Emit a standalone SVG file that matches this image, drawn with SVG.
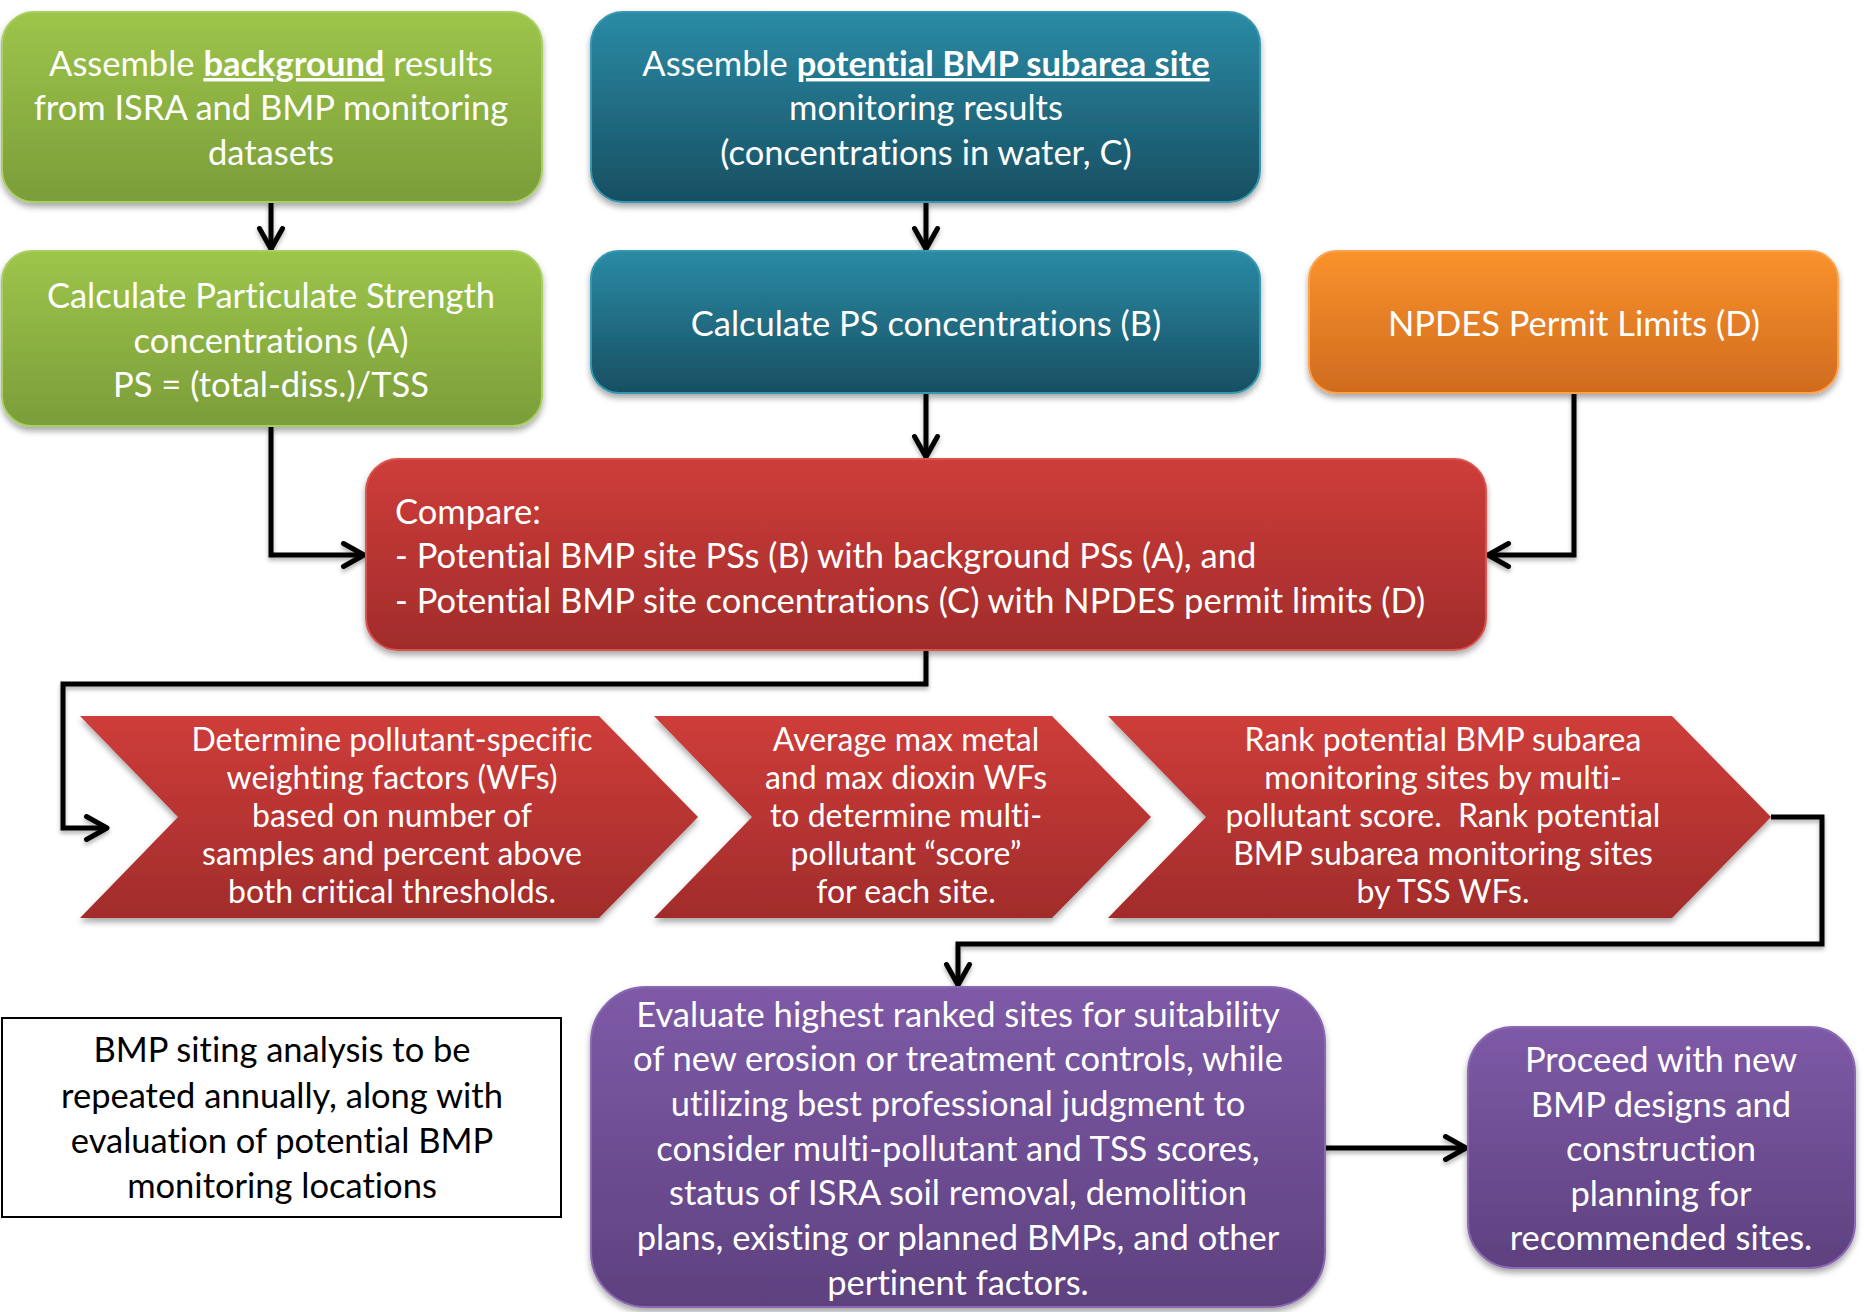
<svg xmlns="http://www.w3.org/2000/svg" width="1864" height="1312" viewBox="0 0 1864 1312">
<style>
.t{font-family:Lato,"Open Sans","Liberation Sans",sans-serif;fill:#fff;text-anchor:middle;font-size:34.5px;font-variant-ligatures:none}
.s{font-size:32px}
.l{text-anchor:start}
.k{fill:#000}
.b{font-weight:bold;text-decoration:underline}
.c{fill:none;stroke:#000;stroke-width:5;stroke-linejoin:miter}
</style>
<defs>
<filter id="sh" x="-5%" y="-5%" width="110%" height="120%">
<feDropShadow dx="0" dy="4" stdDeviation="3" flood-color="#000" flood-opacity="0.35"/>
</filter>
<filter id="csh" x="-10%" y="-10%" width="120%" height="120%">
<feDropShadow dx="0" dy="3" stdDeviation="2" flood-color="#000" flood-opacity="0.3"/>
</filter>
<linearGradient id="gG" x1="0" y1="0" x2="0" y2="1"><stop offset="0" stop-color="#9dc54a"/><stop offset="1" stop-color="#7b9d3a"/></linearGradient>
<linearGradient id="gT" x1="0" y1="0" x2="0" y2="1"><stop offset="0" stop-color="#2a8ba5"/><stop offset="1" stop-color="#184f62"/></linearGradient>
<linearGradient id="gO" x1="0" y1="0" x2="0" y2="1"><stop offset="0" stop-color="#fa922d"/><stop offset="1" stop-color="#cf6b1e"/></linearGradient>
<linearGradient id="gR" x1="0" y1="0" x2="0" y2="1"><stop offset="0" stop-color="#ce3d3a"/><stop offset="1" stop-color="#a12c2b"/></linearGradient>
<linearGradient id="gP" x1="0" y1="0" x2="0" y2="1"><stop offset="0" stop-color="#7e5aa7"/><stop offset="1" stop-color="#5e417f"/></linearGradient>
<marker id="ar" viewBox="0 0 30 30" refX="26" refY="15" markerWidth="30" markerHeight="30" markerUnits="userSpaceOnUse" orient="auto">
<path d="M5.5,3.5 L26,15 L5.5,26.5" fill="none" stroke="#000" stroke-width="5" stroke-linecap="round" stroke-linejoin="round"/>
</marker>
</defs>

<g id="connectors" filter="url(#csh)">
<path class="c" d="M271,202 V249" marker-end="url(#ar)"/>
<path class="c" d="M926,202 V249" marker-end="url(#ar)"/>
<path class="c" d="M926,393 V457" marker-end="url(#ar)"/>
<path class="c" d="M271,426 V555 H364" marker-end="url(#ar)"/>
<path class="c" d="M1574,393 V555 H1488" marker-end="url(#ar)"/>
<path class="c" d="M926,650 V684 H63 V828 H107" marker-end="url(#ar)"/>
<path class="c" d="M1771,817 H1822 V944 H958 V985" marker-end="url(#ar)"/>
<path class="c" d="M1325,1148 H1466" stroke-width="6" marker-end="url(#ar)"/>
</g>

<g id="n1">
<rect x="2" y="12" width="540" height="190" rx="32" fill="url(#gG)" stroke="#a9cf63" stroke-width="2" filter="url(#sh)"/>
<text class="t" x="271" y="76">Assemble <tspan class="b">background</tspan> results</text>
<text class="t" x="271" y="120">from ISRA and BMP monitoring</text>
<text class="t" x="271" y="165">datasets</text>
</g>
<g id="n2">
<rect x="2" y="251" width="540" height="175" rx="30" fill="url(#gG)" stroke="#a9cf63" stroke-width="2" filter="url(#sh)"/>
<text class="t" x="271" y="308">Calculate Particulate Strength</text>
<text class="t" x="271" y="353">concentrations (A)</text>
<text class="t" x="271" y="397">PS = (total-diss.)/TSS</text>
</g>
<g id="n3">
<rect x="591" y="12" width="669" height="190" rx="32" fill="url(#gT)" stroke="#3597b0" stroke-width="2" filter="url(#sh)"/>
<text class="t" x="926" y="76">Assemble <tspan class="b">potential BMP subarea site</tspan></text>
<text class="t" x="926" y="120">monitoring results</text>
<text class="t" x="926" y="165">(concentrations in water, C)</text>
</g>
<g id="n4">
<rect x="591" y="251" width="669" height="142" rx="28" fill="url(#gT)" stroke="#3597b0" stroke-width="2" filter="url(#sh)"/>
<text class="t" x="926" y="336">Calculate PS concentrations (B)</text>
</g>
<g id="n5">
<rect x="1309" y="251" width="529" height="142" rx="28" fill="url(#gO)" stroke="#fba250" stroke-width="2" filter="url(#sh)"/>
<text class="t" x="1574" y="336">NPDES Permit Limits (D)</text>
</g>
<g id="n6">
<rect x="366" y="459" width="1120" height="191" rx="32" fill="url(#gR)" stroke="#d9534f" stroke-width="2" filter="url(#sh)"/>
<text class="t l" x="395" y="524">Compare:</text>
<text class="t l" x="395" y="568">- Potential BMP site PSs (B) with background PSs (A), and</text>
<text class="t l" x="395" y="613">- Potential BMP site concentrations (C) with NPDES permit limits (D)</text>
</g>
<g id="n7">
<polygon points="80,716 599,716 698,817 599,918 80,918 178,817" fill="url(#gR)" filter="url(#sh)"/>
<text class="t s" x="392" y="751">Determine pollutant-specific</text>
<text class="t s" x="392" y="789">weighting factors (WFs)</text>
<text class="t s" x="392" y="827">based on number of</text>
<text class="t s" x="392" y="865">samples and percent above</text>
<text class="t s" x="392" y="903">both critical thresholds.</text>
</g>
<g id="n8">
<polygon points="654,716 1052,716 1151,817 1052,918 654,918 752,817" fill="url(#gR)" filter="url(#sh)"/>
<text class="t s" x="906" y="751">Average max metal</text>
<text class="t s" x="906" y="789">and max dioxin WFs</text>
<text class="t s" x="906" y="827">to determine multi-</text>
<text class="t s" x="906" y="865">pollutant “score”</text>
<text class="t s" x="906" y="903">for each site.</text>
</g>
<g id="n9">
<polygon points="1108,716 1672,716 1771,817 1672,918 1108,918 1206,817" fill="url(#gR)" filter="url(#sh)"/>
<text class="t s" x="1443" y="751">Rank potential BMP subarea</text>
<text class="t s" x="1443" y="789">monitoring sites by multi-</text>
<text class="t s" x="1443" y="827">pollutant score.&#160; Rank potential</text>
<text class="t s" x="1443" y="865">BMP subarea monitoring sites</text>
<text class="t s" x="1443" y="903">by TSS WFs.</text>
</g>
<g id="n10">
<rect x="2" y="1018" width="559" height="199" fill="#fff" stroke="#000" stroke-width="2"/>
<text class="t k" x="282" y="1062">BMP siting analysis to be</text>
<text class="t k" x="282" y="1108">repeated annually, along with</text>
<text class="t k" x="282" y="1153">evaluation of potential BMP</text>
<text class="t k" x="282" y="1198">monitoring locations</text>
</g>
<g id="n11">
<rect x="591" y="987" width="734" height="320" rx="55" fill="url(#gP)" stroke="#8a68b3" stroke-width="2" filter="url(#sh)"/>
<text class="t" x="958" y="1027">Evaluate highest ranked sites for suitability</text>
<text class="t" x="958" y="1071">of new erosion or treatment controls, while</text>
<text class="t" x="958" y="1116">utilizing best professional judgment to</text>
<text class="t" x="958" y="1161">consider multi-pollutant and TSS scores,</text>
<text class="t" x="958" y="1205">status of ISRA soil removal, demolition</text>
<text class="t" x="958" y="1250">plans, existing or planned BMPs, and other</text>
<text class="t" x="958" y="1295">pertinent factors.</text>
</g>
<g id="n12">
<rect x="1468" y="1027" width="387" height="241" rx="45" fill="url(#gP)" stroke="#8a68b3" stroke-width="2" filter="url(#sh)"/>
<text class="t" x="1661" y="1072">Proceed with new</text>
<text class="t" x="1661" y="1117">BMP designs and</text>
<text class="t" x="1661" y="1161">construction</text>
<text class="t" x="1661" y="1206">planning for</text>
<text class="t" x="1661" y="1250">recommended sites.</text>
</g>
</svg>
